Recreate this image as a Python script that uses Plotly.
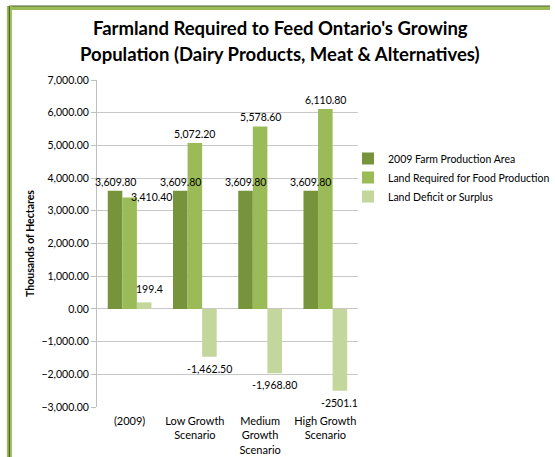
import plotly.graph_objects as go

categories = ["(2009)", "Low Growth<br>Scenario", "Medium<br>Growth<br>Scenario", "High Growth<br>Scenario"]
series_names = ["2009 Farm Production Area", "Land Required for Food Production", "Land Deficit or Surplus"]
farm_area = [3609.8, 3609.8, 3609.8, 3609.8]
land_required = [3410.4, 5072.2, 5578.6, 6110.8]
deficit = [199.4, -1462.5, -1968.8, -2501.1]
farm_labels = ["3,609.80", "3,609.80", "3,609.80", "3,609.80"]
required_labels = ["3,410.40", "5,072.20", "5,578.60", "6,110.80"]
deficit_labels = ["199.4", "-1,462.50", "-1,968.80", "-2501.1"]
y_ticks = [-3000, -2000, -1000, 0, 1000, 2000, 3000, 4000, 5000, 6000, 7000]
title_lines = ["Farmland Required to Feed Ontario's Growing",
               "Population (Dairy Products, Meat &amp; Alternatives)"]

colors = ["#77933C", "#9BBB59", "#C3D69B"]
FONT = "Lato"

W, H = 555, 457
ML, MR, MT, MB = 97, 0, 80, 50
PW = W - ML - MR
PH = H - MT - MB
plot_right_px = 362
xdom = (plot_right_px - ML) / PW

def px_x(px):
    return (px - ML) / PW

def px_y(py):
    return 1 - (py - MT) / PH

fig = go.Figure()
series = [farm_area, land_required, deficit]
for name, vals, col in zip(series_names, series, colors):
    fig.add_trace(go.Bar(x=list(range(len(categories))), y=vals, name=name,
                         marker=dict(color=col, line=dict(width=0))))

bargap = 0.33
bw = (1 - bargap) / 3
offsets = [-bw, 0, bw]
annos = []
label_sets = [farm_labels, required_labels, deficit_labels]
for si, (vals, labs) in enumerate(zip(series, label_sets)):
    for i, (v, lab) in enumerate(zip(vals, labs)):
        a = dict(x=i + offsets[si], y=v, xref="x", yref="y", text=lab, showarrow=False,
                 font=dict(family=FONT, size=10.5, color="#000000"))
        if si == 1 and i == 0:
            a.update(x=i + 0.33, yanchor="middle")
        elif v >= 0:
            a.update(yanchor="bottom", yshift=1)
            if si == 2:
                a.update(yshift=5, xshift=5)
        else:
            a.update(yanchor="top", yshift=-4)
        annos.append(a)

for line, ypx in zip(title_lines, [28, 54]):
    annos.append(dict(text="<b>" + line + "</b>", x=px_x(283), y=px_y(ypx), xref="paper", yref="paper",
                      xanchor="center", yanchor="middle", showarrow=False,
                      font=dict(family=FONT, size=18.5, color="#000000")))

fig.update_layout(
    width=W, height=H,
    margin=dict(l=ML, r=MR, t=MT, b=MB),
    paper_bgcolor="white", plot_bgcolor="white",
    barmode="group", bargap=bargap, bargroupgap=0,
    font=dict(family=FONT, size=11, color="#000000"),
    xaxis=dict(domain=[0, xdom], tickmode="array", tickvals=list(range(len(categories))),
               ticktext=categories, range=[-0.5, 3.5], showgrid=False, zeroline=False,
               showline=False, ticks="", tickfont=dict(family=FONT, size=11), ticklabelstandoff=6),
    xaxis2=dict(domain=[0, xdom], overlaying="x", anchor="free", position=0.3,
                range=[-0.5, 3.5], tickmode="array", tickvals=[-0.5, 0.5, 1.5, 2.5, 3.5],
                showticklabels=False, ticks="outside", ticklen=4, tickcolor="#A6A6A6",
                showline=True, linecolor="#A6A6A6", linewidth=1, showgrid=False, zeroline=False),
    yaxis=dict(range=[-3000, 7000], tickmode="array", tickvals=y_ticks, tickformat=",.2f",
               showgrid=True, gridcolor="#C8C8C8", gridwidth=1, zeroline=False,
               showline=True, linecolor="#BFBFBF", ticks="outside", ticklen=5, tickcolor="#BFBFBF",
               tickfont=dict(family=FONT, size=10.5),
               title=dict(text="<b>Thousands of Hectares</b>", font=dict(family=FONT, size=10.5), standoff=4)),
    legend=dict(x=px_x(352), xanchor="left", y=px_y(144), yanchor="top",
                bgcolor="rgba(0,0,0,0)", font=dict(family=FONT, size=10.5), tracegroupgap=0),
    annotations=annos,
)

# decorative frame
shapes = [
    dict(type="line", xref="paper", yref="paper", x0=px_x(8), x1=px_x(W + 2), y0=px_y(8), y1=px_y(8),
         line=dict(color="#9BBB59", width=4)),
    dict(type="line", xref="paper", yref="paper", x0=px_x(8), x1=px_x(W + 2), y0=px_y(6), y1=px_y(6),
         line=dict(color="#4F6228", width=1)),
    dict(type="line", xref="paper", yref="paper", x0=px_x(8), x1=px_x(8), y0=px_y(6), y1=px_y(H + 2),
         line=dict(color="#9BBB59", width=5)),
    dict(type="line", xref="paper", yref="paper", x0=px_x(8), x1=px_x(8), y0=px_y(6), y1=px_y(H + 2),
         line=dict(color="#4F6228", width=1.2)),
]
fig.update_layout(shapes=shapes)

fig.write_html("out.html", config={"displayModeBar": False},
               post_script="document.body.style.margin='0';")
